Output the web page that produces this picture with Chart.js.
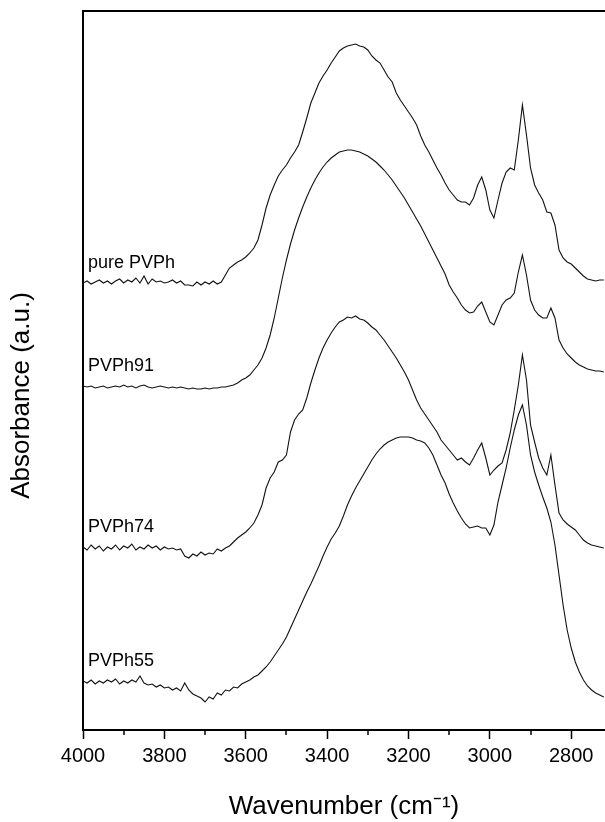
<!DOCTYPE html>
<html>
<head>
<meta charset="utf-8">
<title>FTIR spectra - PVPh blends</title>
<script src="https://cdn.jsdelivr.net/npm/chart.js@4.4.1/dist/chart.umd.min.js"></script>
<style>
    html, body { margin: 0; padding: 0; background: #fff; }
    #spectra { display: block; }
</style>
</head>
<body>
<canvas id="spectra" width="605" height="822"></canvas>
<script>
// wavenumber grid, 4000 -> 2720 cm-1 every 10 cm-1
const wavenumbers = Array.from({ length: 129 }, (_, i) => 4000 - i * 10);

const seriesNames = ['pure PVPh', 'PVPh91', 'PVPh74', 'PVPh55'];

// absorbance (arbitrary units, stacked offsets as in the figure)
const purePVPh = [
    447, 449, 446, 448, 450, 447, 449, 446, 449, 451, 447, 450, 448, 452, 447, 454, 446, 451, 448, 449,
    447, 448, 450, 447, 449, 445, 445, 444, 448, 445, 448, 446, 449, 446, 448, 455, 462, 465, 468, 470,
    473, 477, 482, 490, 505, 522, 535, 545, 554, 560, 565, 572, 578, 585, 598, 612, 627, 637, 647, 654,
    660, 667, 673, 679, 682, 684, 685, 686, 684, 683, 680, 674, 670, 667, 660, 653, 648, 637, 630, 624,
    618, 612, 605, 594, 585, 578, 570, 562, 555, 547, 540, 535, 530, 528, 528, 525, 532, 545, 553, 540,
    520, 512, 530, 547, 558, 562, 560, 590, 625, 595, 562, 545, 537, 530, 518, 517, 505, 480, 472, 468,
    466, 462, 458, 454, 451, 450, 449, 450, 450
];
const pvph91 = [
    344, 343, 344, 342, 343, 344, 342, 343, 344, 343, 345, 343, 344, 342, 344, 345, 343, 342, 343, 344,
    343, 342, 343, 342, 343, 342, 341, 342, 341, 341, 342, 341, 342, 342, 343, 343, 344, 345, 347, 350,
    352, 355, 360, 365, 372, 382, 395, 412, 432, 452, 470, 486, 500, 512, 523, 533, 542, 550, 557, 563,
    568, 572, 575, 578, 579, 580, 580, 579, 578, 576, 574, 571, 568, 564, 560, 555, 550, 544, 538, 532,
    525, 518, 511, 504, 496, 488, 480, 472, 464, 456, 445, 438, 432, 425, 420, 417, 418, 424, 428, 418,
    408, 405, 415, 425, 430, 432, 437, 458, 475, 455, 430, 420, 415, 412, 412, 422, 412, 390, 382, 376,
    372, 368, 365, 363, 361, 360, 359, 359, 358
];
const pvph74 = [
    183, 180, 185, 181, 184, 179, 183, 181, 185, 180, 184, 182, 186, 180, 183, 181, 185, 182, 184, 180,
    183, 181, 182, 180, 181, 174, 172, 176, 174, 178, 175, 177, 176, 181, 179, 182, 184, 188, 192, 195,
    198, 202, 207, 215, 225, 242, 252, 258, 268, 270, 275, 298, 310, 316, 320, 332, 347, 360, 372, 382,
    390, 397, 403, 408, 410, 413, 412, 414, 411, 410, 407, 403, 400, 395, 390, 384, 378, 372, 365, 358,
    350, 340, 330, 322, 316, 310, 304, 298, 290, 285, 280, 275, 270, 272, 268, 265, 272, 280, 287, 272,
    255, 260, 264, 267, 280, 297, 320, 345, 375, 350, 305, 288, 272, 262, 255, 275, 245, 217, 210, 206,
    203, 200, 195, 190, 187, 185, 184, 183, 182
];
const pvph55 = [
    49, 47, 50, 46, 49, 47, 50, 48, 51, 46, 49, 47, 50, 48, 54, 47, 45, 46, 43, 45,
    42, 43, 40, 42, 39, 47, 40, 36, 34, 32, 28, 33, 31, 37, 35, 40, 39, 43, 42, 46,
    48, 50, 53, 55, 59, 63, 68, 74, 80, 86, 93, 102, 111, 120, 129, 138, 146, 155, 164, 174,
    183, 191, 197, 204, 214, 225, 234, 242, 249, 256, 263, 270, 276, 281, 285, 288, 290, 292, 293, 293,
    293, 292, 290, 289, 287, 282, 275, 265, 255, 247, 236, 227, 219, 212, 206, 202, 203, 204, 202, 202,
    195, 205, 228, 245, 262, 282, 300, 315, 325, 305, 275, 258, 245, 233, 222, 208, 185, 155, 125, 100,
    82, 68, 58, 50, 44, 40, 37, 35, 33
];

const xTickValues = [4000, 3800, 3600, 3400, 3200, 3000, 2800];
const xMinorTickValues = [3900, 3700, 3500, 3300, 3100, 2900];

const allSeries = [purePVPh, pvph91, pvph74, pvph55];
const FONT = '"Liberation Sans", Arial, Helvetica, sans-serif';

// 曲线名称写在每条谱线左端上方
const seriesLabels = {
    id: 'seriesLabels',
    afterDatasetsDraw(chart) {
        const { ctx, chartArea, scales } = chart;
        ctx.save();
        ctx.font = '18px ' + FONT;
        ctx.fillStyle = '#000';
        ctx.textBaseline = 'middle';
        ctx.textAlign = 'left';
        allSeries.forEach((values, i) => {
            const y = scales.y.getPixelForValue(values[0]) - 20;
            ctx.fillText(seriesNames[i], chartArea.left + 5, y);
        });
        ctx.restore();
    }
};

// 上边框 + 次刻度 + 纵轴标题（原图标题略偏下）
const frameAndMinorTicks = {
    id: 'frameAndMinorTicks',
    afterDraw(chart) {
        const { ctx, chartArea, scales } = chart;
        ctx.save();
        ctx.strokeStyle = '#000';
        ctx.lineWidth = 2;
        ctx.beginPath();
        ctx.moveTo(chartArea.left - 1, chartArea.top);
        ctx.lineTo(chartArea.right, chartArea.top);
        ctx.stroke();

        ctx.lineWidth = 1.5;
        xMinorTickValues.forEach(v => {
            const x = Math.round(scales.x.getPixelForValue(v));
            ctx.beginPath();
            ctx.moveTo(x, chartArea.bottom);
            ctx.lineTo(x, chartArea.bottom + 5);
            ctx.stroke();
        });

        ctx.translate(22, (chartArea.top + chartArea.bottom) / 2 + 25);
        ctx.rotate(-Math.PI / 2);
        ctx.font = '26px ' + FONT;
        ctx.fillStyle = '#000';
        ctx.textAlign = 'center';
        ctx.textBaseline = 'middle';
        ctx.fillText('Absorbance (a.u.)', 0, 0);
        ctx.restore();
    }
};

const ctx = document.getElementById('spectra').getContext('2d');
new Chart(ctx, {
    type: 'line',
    data: {
        datasets: allSeries.map((values, i) => ({
            label: seriesNames[i],
            data: values.map((v, j) => ({ x: wavenumbers[j], y: v })),
            borderColor: '#111',
            borderWidth: 1.1,
            pointRadius: 0,
            tension: 0,
            fill: false
        }))
    },
    options: {
        responsive: false,
        animation: false,
        layout: { padding: { top: 11, right: 0, bottom: 0, left: 0 } },
        plugins: {
            legend: { display: false },
            tooltip: { enabled: false }
        },
        scales: {
            x: {
                type: 'linear',
                reverse: true,
                min: 2717,
                max: 4000,
                afterBuildTicks: scale => {
                    scale.ticks = xTickValues.map(v => ({ value: v }));
                },
                afterFit: scale => { scale.height = 92; },
                ticks: {
                    color: '#000',
                    font: { size: 20, family: FONT },
                    padding: 5,
                    maxRotation: 0,
                    autoSkip: false,
                    callback: v => String(v)
                },
                grid: {
                    display: true,
                    drawOnChartArea: false,
                    drawTicks: true,
                    tickLength: 9,
                    tickColor: '#000',
                    tickWidth: 1.5
                },
                border: { display: true, color: '#000', width: 2 },
                title: {
                    display: true,
                    text: 'Wavenumber (cm⁻¹)',
                    color: '#000',
                    font: { size: 26, family: FONT },
                    padding: { top: 0, bottom: 0 }
                }
            },
            y: {
                min: 0,
                max: 719,
                afterFit: scale => { scale.width = 83; },
                ticks: { display: false },
                grid: { display: false, drawTicks: false },
                border: { display: true, color: '#000', width: 2 },
                title: { display: false }
            }
        }
    },
    plugins: [seriesLabels, frameAndMinorTicks]
});
</script>
</body>
</html>
